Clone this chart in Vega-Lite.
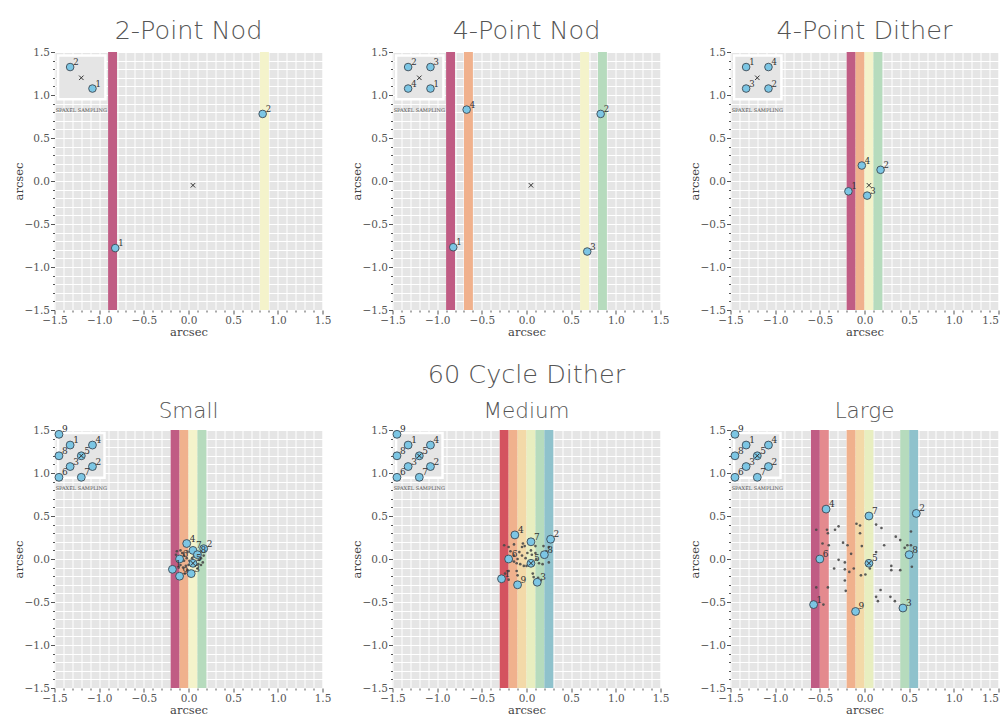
{
"$schema": "https://vega.github.io/schema/vega-lite/v6.json",
"background": "white",
"padding": {"left": 12.5, "top": 18, "right": 0, "bottom": 0},
"columns": 3,
"spacing": {"row": 120, "column": 70},
"bounds": "flush",
"concat": [
{
"width": 268, "height": 258,
"title": {"text": "2-Point Nod"},
"data": {"values": [
{"k":"band","x":-0.9,"x2":-0.8,"y":-1.5,"y2":1.5,"c":"b1"},
{"k":"band","x":0.8,"x2":0.9,"y":-1.5,"y2":1.5,"c":"b6"},
{"k":"box","x":-1.46,"x2":-0.93,"y":0.95,"y2":1.46},
{"k":"cap","x":-1.2,"y":0.83,"t":"SPAXEL SAMPLING"},
{"k":"pt","x":-0.82,"y":-0.78,"n":"1"},
{"k":"pt","x":0.83,"y":0.78,"n":"2"},
{"k":"pt","x":-1.075,"y":1.075,"n":"1"},
{"k":"pt","x":-1.325,"y":1.325,"n":"2"},
{"k":"ctr","x":0.05,"y":-0.05},
{"k":"ctr","x":-1.2,"y":1.2}
]},
"encoding": {
"x": {"field":"x","type":"quantitative","title":"arcsec","scale":{"domain":[-1.5,1.5],"nice":false,"zero":false},"axis":{"values":[-1.5,-1.4,-1.3,-1.2,-1.1,-1,-0.9,-0.8,-0.7,-0.6,-0.5,-0.4,-0.3,-0.2,-0.1,0,0.1,0.2,0.3,0.4,0.5,0.6,0.7,0.8,0.9,1,1.1,1.2,1.3,1.4,1.5],"labelExpr":"abs(datum.value*2-round(datum.value*2))<0.01 ? format(datum.value,'.1f') : ''","tickSize":{"condition":{"test":"abs(datum.value*2-round(datum.value*2))<0.01","value":4},"value":2},"labelPadding":1,"titlePadding":1}},
"y": {"field":"y","type":"quantitative","title":"arcsec","scale":{"domain":[-1.5,1.5],"nice":false,"zero":false},"axis":{"values":[-1.5,-1.4,-1.3,-1.2,-1.1,-1,-0.9,-0.8,-0.7,-0.6,-0.5,-0.4,-0.3,-0.2,-0.1,0,0.1,0.2,0.3,0.4,0.5,0.6,0.7,0.8,0.9,1,1.1,1.2,1.3,1.4,1.5],"labelExpr":"abs(datum.value*2-round(datum.value*2))<0.01 ? format(datum.value,'.1f') : ''","tickSize":{"condition":{"test":"abs(datum.value*2-round(datum.value*2))<0.01","value":4},"value":2},"labelPadding":1,"titlePadding":0}}
},
"layer": [
{"transform":[{"filter":"datum.k==='band'"}],"mark":{"type":"rect"},"encoding":{"x2":{"field":"x2"},"y2":{"field":"y2"},"color":{"field":"c","type":"nominal","legend":null,"scale":{"domain":["b1","b2","b3","b4","b5","b6","b7","b8","b9"],"range":["#C05C84","#D4535F","#E48A8E","#F0B18D","#F3D9A8","#F4F3CB","#E8EEC0","#B6DBBD","#8FC2CC"]}}}},
{"transform":[{"filter":"datum.k==='box'"}],"mark":{"type":"rect","fill":"#E5E5E5","stroke":"white","strokeWidth":2.5},"encoding":{"x2":{"field":"x2"},"y2":{"field":"y2"}}},
{"transform":[{"filter":"datum.k==='cap'"}],"mark":{"type":"text","font":"DejaVu Serif","fontSize":5,"color":"#555555","align":"center","baseline":"middle"},"encoding":{"text":{"field":"t"}}},
{"transform":[{"filter":"datum.k==='pt'"}],"mark":{"type":"point","shape":"circle","filled":true,"fill":"#7CC6E4","stroke":"#3C4A55","strokeWidth":0.9,"opacity":1,"size":58}},
{"transform":[{"filter":"datum.k==='pt'"}],"mark":{"type":"text","font":"DejaVu Serif","fontSize":8.5,"color":"#333333","align":"left","baseline":"middle","dx":3,"dy":-5},"encoding":{"text":{"field":"n"}}},
{"transform":[{"filter":"datum.k==='ctr'"}],"mark":{"type":"point","shape":"M-1,-1L1,1M-1,1L1,-1","filled":false,"stroke":"#333333","strokeWidth":1,"opacity":1,"size":20}}
]
},
{
"width": 268, "height": 258,
"title": {"text": "4-Point Nod"},
"data": {"values": [
{"k":"band","x":-0.9,"x2":-0.8,"y":-1.5,"y2":1.5,"c":"b1"},
{"k":"band","x":-0.7,"x2":-0.6,"y":-1.5,"y2":1.5,"c":"b4"},
{"k":"band","x":0.6,"x2":0.7,"y":-1.5,"y2":1.5,"c":"b6"},
{"k":"band","x":0.8,"x2":0.9,"y":-1.5,"y2":1.5,"c":"b8"},
{"k":"box","x":-1.46,"x2":-0.93,"y":0.95,"y2":1.46},
{"k":"cap","x":-1.2,"y":0.83,"t":"SPAXEL SAMPLING"},
{"k":"pt","x":-0.82,"y":-0.77,"n":"1"},
{"k":"pt","x":0.83,"y":0.78,"n":"2"},
{"k":"pt","x":0.68,"y":-0.82,"n":"3"},
{"k":"pt","x":-0.67,"y":0.83,"n":"4"},
{"k":"pt","x":-1.075,"y":1.075,"n":"1"},
{"k":"pt","x":-1.325,"y":1.325,"n":"2"},
{"k":"pt","x":-1.075,"y":1.325,"n":"3"},
{"k":"pt","x":-1.325,"y":1.075,"n":"4"},
{"k":"ctr","x":0.05,"y":-0.05},
{"k":"ctr","x":-1.2,"y":1.2}
]},
"encoding": {
"x": {"field":"x","type":"quantitative","title":"arcsec","scale":{"domain":[-1.5,1.5],"nice":false,"zero":false},"axis":{"values":[-1.5,-1.4,-1.3,-1.2,-1.1,-1,-0.9,-0.8,-0.7,-0.6,-0.5,-0.4,-0.3,-0.2,-0.1,0,0.1,0.2,0.3,0.4,0.5,0.6,0.7,0.8,0.9,1,1.1,1.2,1.3,1.4,1.5],"labelExpr":"abs(datum.value*2-round(datum.value*2))<0.01 ? format(datum.value,'.1f') : ''","tickSize":{"condition":{"test":"abs(datum.value*2-round(datum.value*2))<0.01","value":4},"value":2},"labelPadding":1,"titlePadding":1}},
"y": {"field":"y","type":"quantitative","title":"arcsec","scale":{"domain":[-1.5,1.5],"nice":false,"zero":false},"axis":{"values":[-1.5,-1.4,-1.3,-1.2,-1.1,-1,-0.9,-0.8,-0.7,-0.6,-0.5,-0.4,-0.3,-0.2,-0.1,0,0.1,0.2,0.3,0.4,0.5,0.6,0.7,0.8,0.9,1,1.1,1.2,1.3,1.4,1.5],"labelExpr":"abs(datum.value*2-round(datum.value*2))<0.01 ? format(datum.value,'.1f') : ''","tickSize":{"condition":{"test":"abs(datum.value*2-round(datum.value*2))<0.01","value":4},"value":2},"labelPadding":1,"titlePadding":0}}
},
"layer": [
{"transform":[{"filter":"datum.k==='band'"}],"mark":{"type":"rect"},"encoding":{"x2":{"field":"x2"},"y2":{"field":"y2"},"color":{"field":"c","type":"nominal","legend":null,"scale":{"domain":["b1","b2","b3","b4","b5","b6","b7","b8","b9"],"range":["#C05C84","#D4535F","#E48A8E","#F0B18D","#F3D9A8","#F4F3CB","#E8EEC0","#B6DBBD","#8FC2CC"]}}}},
{"transform":[{"filter":"datum.k==='box'"}],"mark":{"type":"rect","fill":"#E5E5E5","stroke":"white","strokeWidth":2.5},"encoding":{"x2":{"field":"x2"},"y2":{"field":"y2"}}},
{"transform":[{"filter":"datum.k==='cap'"}],"mark":{"type":"text","font":"DejaVu Serif","fontSize":5,"color":"#555555","align":"center","baseline":"middle"},"encoding":{"text":{"field":"t"}}},
{"transform":[{"filter":"datum.k==='pt'"}],"mark":{"type":"point","shape":"circle","filled":true,"fill":"#7CC6E4","stroke":"#3C4A55","strokeWidth":0.9,"opacity":1,"size":58}},
{"transform":[{"filter":"datum.k==='pt'"}],"mark":{"type":"text","font":"DejaVu Serif","fontSize":8.5,"color":"#333333","align":"left","baseline":"middle","dx":3,"dy":-5},"encoding":{"text":{"field":"n"}}},
{"transform":[{"filter":"datum.k==='ctr'"}],"mark":{"type":"point","shape":"M-1,-1L1,1M-1,1L1,-1","filled":false,"stroke":"#333333","strokeWidth":1,"opacity":1,"size":20}}
]
},
{
"width": 268, "height": 258,
"title": {"text": "4-Point Dither"},
"data": {"values": [
{"k":"band","x":-0.2,"x2":-0.1,"y":-1.5,"y2":1.5,"c":"b1"},
{"k":"band","x":-0.1,"x2":0,"y":-1.5,"y2":1.5,"c":"b4"},
{"k":"band","x":0,"x2":0.1,"y":-1.5,"y2":1.5,"c":"b6"},
{"k":"band","x":0.1,"x2":0.2,"y":-1.5,"y2":1.5,"c":"b8"},
{"k":"box","x":-1.46,"x2":-0.93,"y":0.95,"y2":1.46},
{"k":"cap","x":-1.2,"y":0.83,"t":"SPAXEL SAMPLING"},
{"k":"pt","x":-0.18,"y":-0.12,"n":"1"},
{"k":"pt","x":0.18,"y":0.13,"n":"2"},
{"k":"pt","x":0.03,"y":-0.17,"n":"3"},
{"k":"pt","x":-0.03,"y":0.18,"n":"4"},
{"k":"pt","x":-1.325,"y":1.325,"n":"1"},
{"k":"pt","x":-1.075,"y":1.075,"n":"2"},
{"k":"pt","x":-1.325,"y":1.075,"n":"3"},
{"k":"pt","x":-1.075,"y":1.325,"n":"4"},
{"k":"ctr","x":0.05,"y":-0.05},
{"k":"ctr","x":-1.2,"y":1.2}
]},
"encoding": {
"x": {"field":"x","type":"quantitative","title":"arcsec","scale":{"domain":[-1.5,1.5],"nice":false,"zero":false},"axis":{"values":[-1.5,-1.4,-1.3,-1.2,-1.1,-1,-0.9,-0.8,-0.7,-0.6,-0.5,-0.4,-0.3,-0.2,-0.1,0,0.1,0.2,0.3,0.4,0.5,0.6,0.7,0.8,0.9,1,1.1,1.2,1.3,1.4,1.5],"labelExpr":"abs(datum.value*2-round(datum.value*2))<0.01 ? format(datum.value,'.1f') : ''","labelAlign":{"condition":{"test":"datum.value>1.45","value":"right"},"value":"center"},"tickSize":{"condition":{"test":"abs(datum.value*2-round(datum.value*2))<0.01","value":4},"value":2},"labelPadding":1,"titlePadding":1}},
"y": {"field":"y","type":"quantitative","title":"arcsec","scale":{"domain":[-1.5,1.5],"nice":false,"zero":false},"axis":{"values":[-1.5,-1.4,-1.3,-1.2,-1.1,-1,-0.9,-0.8,-0.7,-0.6,-0.5,-0.4,-0.3,-0.2,-0.1,0,0.1,0.2,0.3,0.4,0.5,0.6,0.7,0.8,0.9,1,1.1,1.2,1.3,1.4,1.5],"labelExpr":"abs(datum.value*2-round(datum.value*2))<0.01 ? format(datum.value,'.1f') : ''","tickSize":{"condition":{"test":"abs(datum.value*2-round(datum.value*2))<0.01","value":4},"value":2},"labelPadding":1,"titlePadding":0}}
},
"layer": [
{"transform":[{"filter":"datum.k==='band'"}],"mark":{"type":"rect"},"encoding":{"x2":{"field":"x2"},"y2":{"field":"y2"},"color":{"field":"c","type":"nominal","legend":null,"scale":{"domain":["b1","b2","b3","b4","b5","b6","b7","b8","b9"],"range":["#C05C84","#D4535F","#E48A8E","#F0B18D","#F3D9A8","#F4F3CB","#E8EEC0","#B6DBBD","#8FC2CC"]}}}},
{"transform":[{"filter":"datum.k==='box'"}],"mark":{"type":"rect","fill":"#E5E5E5","stroke":"white","strokeWidth":2.5},"encoding":{"x2":{"field":"x2"},"y2":{"field":"y2"}}},
{"transform":[{"filter":"datum.k==='cap'"}],"mark":{"type":"text","font":"DejaVu Serif","fontSize":5,"color":"#555555","align":"center","baseline":"middle"},"encoding":{"text":{"field":"t"}}},
{"transform":[{"filter":"datum.k==='pt'"}],"mark":{"type":"point","shape":"circle","filled":true,"fill":"#7CC6E4","stroke":"#3C4A55","strokeWidth":0.9,"opacity":1,"size":58}},
{"transform":[{"filter":"datum.k==='pt'"}],"mark":{"type":"text","font":"DejaVu Serif","fontSize":8.5,"color":"#333333","align":"left","baseline":"middle","dx":3,"dy":-5},"encoding":{"text":{"field":"n"}}},
{"transform":[{"filter":"datum.k==='ctr'"}],"mark":{"type":"point","shape":"M-1,-1L1,1M-1,1L1,-1","filled":false,"stroke":"#333333","strokeWidth":1,"opacity":1,"size":20}}
]
},
{
"width": 268, "height": 258,
"title": {"text": " ", "subtitle": "Small"},
"data": {"values": [
{"k":"band","x":-0.2,"x2":-0.1,"y":-1.5,"y2":1.5,"c":"b1"},
{"k":"band","x":-0.1,"x2":0,"y":-1.5,"y2":1.5,"c":"b4"},
{"k":"band","x":0,"x2":0.1,"y":-1.5,"y2":1.5,"c":"b6"},
{"k":"band","x":0.1,"x2":0.2,"y":-1.5,"y2":1.5,"c":"b8"},
{"k":"box","x":-1.46,"x2":-0.94,"y":0.945,"y2":1.465},
{"k":"cap","x":-1.2,"y":0.83,"t":"SPAXEL SAMPLING"},
{"k":"dot","x":-0.13,"y":0.09},{"k":"dot","x":-0.09,"y":0.1},{"k":"dot","x":-0.07,"y":0.07},{"k":"dot","x":-0.05,"y":0.04},{"k":"dot","x":-0.01,"y":0.08},{"k":"dot","x":0.03,"y":0.1},{"k":"dot","x":0.08,"y":0.08},{"k":"dot","x":0.1,"y":0.04},{"k":"dot","x":0.13,"y":0.06},{"k":"dot","x":0.12,"y":-0.01},{"k":"dot","x":0.08,"y":-0.03},{"k":"dot","x":0.07,"y":-0.08},{"k":"dot","x":0.11,"y":-0.06},{"k":"dot","x":-0.05,"y":-0.02},{"k":"dot","x":-0.09,"y":-0.07},{"k":"dot","x":-0.11,"y":-0.1},{"k":"dot","x":-0.03,"y":-0.08},{"k":"dot","x":-0.01,"y":-0.13},{"k":"dot","x":0.02,"y":-0.14},{"k":"dot","x":0.05,"y":-0.14},{"k":"dot","x":0.1,"y":-0.11},{"k":"dot","x":0.14,"y":-0.07},{"k":"dot","x":0.16,"y":-0.04},{"k":"dot","x":-0.04,"y":-0.17},{"k":"dot","x":0.01,"y":-0.02},{"k":"dot","x":0.04,"y":0.01},{"k":"dot","x":-0.02,"y":0.01},{"k":"dot","x":-0.06,"y":-0.1},{"k":"dot","x":0.14,"y":0.01},{"k":"dot","x":-0.1,"y":0.03},{"k":"dot","x":-0.14,"y":0.05},{"k":"dot","x":0.06,"y":0.03},{"k":"dot","x":0,"y":-0.07},{"k":"dot","x":0.17,"y":0.04},
{"k":"pt","x":-0.18,"y":-0.12,"n":"1"},
{"k":"pt","x":0.17,"y":0.12,"n":"2"},
{"k":"pt","x":0.03,"y":-0.17,"n":"3"},
{"k":"pt","x":-0.02,"y":0.18,"n":"4"},
{"k":"pt","x":0.05,"y":-0.05,"n":"5"},
{"k":"pt","x":-0.1,"y":0,"n":"6"},
{"k":"pt","x":0.05,"y":0.1,"n":"7"},
{"k":"pt","x":0.1,"y":0.05,"n":"8"},
{"k":"pt","x":-0.1,"y":-0.2,"n":"9"},
{"k":"pt","x":-1.325,"y":1.325,"n":"1"},
{"k":"pt","x":-1.075,"y":1.075,"n":"2"},
{"k":"pt","x":-1.325,"y":1.075,"n":"3"},
{"k":"pt","x":-1.075,"y":1.325,"n":"4"},
{"k":"pt","x":-1.2,"y":1.2,"n":"5"},
{"k":"pt","x":-1.45,"y":0.95,"n":"6"},
{"k":"pt","x":-1.2,"y":0.95,"n":"7"},
{"k":"pt","x":-1.45,"y":1.2,"n":"8"},
{"k":"pt","x":-1.45,"y":1.45,"n":"9"},
{"k":"ctr","x":0.05,"y":-0.05},
{"k":"ctr","x":-1.2,"y":1.2}
]},
"encoding": {
"x": {"field":"x","type":"quantitative","title":"arcsec","scale":{"domain":[-1.5,1.5],"nice":false,"zero":false},"axis":{"values":[-1.5,-1.4,-1.3,-1.2,-1.1,-1,-0.9,-0.8,-0.7,-0.6,-0.5,-0.4,-0.3,-0.2,-0.1,0,0.1,0.2,0.3,0.4,0.5,0.6,0.7,0.8,0.9,1,1.1,1.2,1.3,1.4,1.5],"labelExpr":"abs(datum.value*2-round(datum.value*2))<0.01 ? format(datum.value,'.1f') : ''","tickSize":{"condition":{"test":"abs(datum.value*2-round(datum.value*2))<0.01","value":4},"value":2},"labelPadding":1,"titlePadding":1}},
"y": {"field":"y","type":"quantitative","title":"arcsec","scale":{"domain":[-1.5,1.5],"nice":false,"zero":false},"axis":{"values":[-1.5,-1.4,-1.3,-1.2,-1.1,-1,-0.9,-0.8,-0.7,-0.6,-0.5,-0.4,-0.3,-0.2,-0.1,0,0.1,0.2,0.3,0.4,0.5,0.6,0.7,0.8,0.9,1,1.1,1.2,1.3,1.4,1.5],"labelExpr":"abs(datum.value*2-round(datum.value*2))<0.01 ? format(datum.value,'.1f') : ''","tickSize":{"condition":{"test":"abs(datum.value*2-round(datum.value*2))<0.01","value":4},"value":2},"labelPadding":1,"titlePadding":0}}
},
"layer": [
{"transform":[{"filter":"datum.k==='band'"}],"mark":{"type":"rect"},"encoding":{"x2":{"field":"x2"},"y2":{"field":"y2"},"color":{"field":"c","type":"nominal","legend":null,"scale":{"domain":["b1","b2","b3","b4","b5","b6","b7","b8","b9"],"range":["#C05C84","#D4535F","#E48A8E","#F0B18D","#F3D9A8","#F4F3CB","#E8EEC0","#B6DBBD","#8FC2CC"]}}}},
{"transform":[{"filter":"datum.k==='box'"}],"mark":{"type":"rect","fill":"#E5E5E5","stroke":"white","strokeWidth":2.5},"encoding":{"x2":{"field":"x2"},"y2":{"field":"y2"}}},
{"transform":[{"filter":"datum.k==='cap'"}],"mark":{"type":"text","font":"DejaVu Serif","fontSize":5,"color":"#555555","align":"center","baseline":"middle"},"encoding":{"text":{"field":"t"}}},
{"transform":[{"filter":"datum.k==='dot'"}],"mark":{"type":"circle","color":"#4A4A4A","opacity":0.9,"size":7}},
{"transform":[{"filter":"datum.k==='pt'"}],"mark":{"type":"point","shape":"circle","filled":true,"fill":"#7CC6E4","stroke":"#3C4A55","strokeWidth":0.9,"opacity":1,"size":62}},
{"transform":[{"filter":"datum.k==='pt'"}],"mark":{"type":"text","font":"DejaVu Serif","fontSize":9,"color":"#333333","align":"left","baseline":"middle","dx":3,"dy":-5},"encoding":{"text":{"field":"n"}}},
{"transform":[{"filter":"datum.k==='ctr'"}],"mark":{"type":"point","shape":"M-1,-1L1,1M-1,1L1,-1","filled":false,"stroke":"#333333","strokeWidth":1,"opacity":1,"size":20}}
]
},
{
"width": 268, "height": 258,
"title": {"text": "60 Cycle Dither", "subtitle": "Medium"},
"data": {"values": [
{"k":"band","x":-0.3,"x2":-0.2,"y":-1.5,"y2":1.5,"c":"b2"},
{"k":"band","x":-0.2,"x2":-0.1,"y":-1.5,"y2":1.5,"c":"b4"},
{"k":"band","x":-0.1,"x2":0,"y":-1.5,"y2":1.5,"c":"b5"},
{"k":"band","x":0,"x2":0.1,"y":-1.5,"y2":1.5,"c":"b7"},
{"k":"band","x":0.1,"x2":0.2,"y":-1.5,"y2":1.5,"c":"b8"},
{"k":"band","x":0.2,"x2":0.3,"y":-1.5,"y2":1.5,"c":"b9"},
{"k":"box","x":-1.46,"x2":-0.94,"y":0.945,"y2":1.465},
{"k":"cap","x":-1.2,"y":0.83,"t":"SPAXEL SAMPLING"},
{"k":"dot","x":-0.25,"y":0.16},{"k":"dot","x":-0.2,"y":0.14},{"k":"dot","x":-0.14,"y":0.17},{"k":"dot","x":-0.18,"y":0.09},{"k":"dot","x":-0.04,"y":0.18},{"k":"dot","x":-0.02,"y":0.15},{"k":"dot","x":-0.08,"y":0.08},{"k":"dot","x":0.03,"y":0.23},{"k":"dot","x":0.1,"y":0.15},{"k":"dot","x":0.1,"y":0.07},{"k":"dot","x":-0.14,"y":0.04},{"k":"dot","x":-0.1,"y":0},{"k":"dot","x":-0.05,"y":0.04},{"k":"dot","x":-0.01,"y":0.01},{"k":"dot","x":-0.14,"y":-0.03},{"k":"dot","x":-0.11,"y":-0.05},{"k":"dot","x":-0.07,"y":-0.06},{"k":"dot","x":-0.03,"y":-0.08},{"k":"dot","x":0,"y":-0.08},{"k":"dot","x":0.03,"y":-0.05},{"k":"dot","x":0.11,"y":0},{"k":"dot","x":0.14,"y":-0.05},{"k":"dot","x":0.18,"y":-0.06},{"k":"dot","x":0.25,"y":-0.04},{"k":"dot","x":0.25,"y":0.14},{"k":"dot","x":0.19,"y":0.15},{"k":"dot","x":0.22,"y":0.09},{"k":"dot","x":-0.2,"y":-0.14},{"k":"dot","x":-0.24,"y":-0.17},{"k":"dot","x":-0.11,"y":-0.14},{"k":"dot","x":-0.1,"y":-0.19},{"k":"dot","x":0.07,"y":-0.17},{"k":"dot","x":0.08,"y":-0.21},{"k":"dot","x":0.13,"y":-0.22},{"k":"dot","x":0.16,"y":-0.25},{"k":"dot","x":0.09,"y":-0.28},{"k":"dot","x":-0.2,"y":-0.24},{"k":"dot","x":0.01,"y":0.07},{"k":"dot","x":0.06,"y":0.05},{"k":"dot","x":-0.17,"y":-0.02},{"k":"dot","x":-0.05,"y":0.14},{"k":"dot","x":0.05,"y":0.1},
{"k":"pt","x":-0.28,"y":-0.23,"n":"1"},
{"k":"pt","x":0.27,"y":0.23,"n":"2"},
{"k":"pt","x":0.12,"y":-0.27,"n":"3"},
{"k":"pt","x":-0.13,"y":0.28,"n":"4"},
{"k":"pt","x":0.05,"y":-0.05,"n":"5"},
{"k":"pt","x":-0.2,"y":0,"n":"6"},
{"k":"pt","x":0.05,"y":0.2,"n":"7"},
{"k":"pt","x":0.2,"y":0.05,"n":"8"},
{"k":"pt","x":-0.1,"y":-0.3,"n":"9"},
{"k":"pt","x":-1.325,"y":1.325,"n":"1"},
{"k":"pt","x":-1.075,"y":1.075,"n":"2"},
{"k":"pt","x":-1.325,"y":1.075,"n":"3"},
{"k":"pt","x":-1.075,"y":1.325,"n":"4"},
{"k":"pt","x":-1.2,"y":1.2,"n":"5"},
{"k":"pt","x":-1.45,"y":0.95,"n":"6"},
{"k":"pt","x":-1.2,"y":0.95,"n":"7"},
{"k":"pt","x":-1.45,"y":1.2,"n":"8"},
{"k":"pt","x":-1.45,"y":1.45,"n":"9"},
{"k":"ctr","x":0.05,"y":-0.05},
{"k":"ctr","x":-1.2,"y":1.2}
]},
"encoding": {
"x": {"field":"x","type":"quantitative","title":"arcsec","scale":{"domain":[-1.5,1.5],"nice":false,"zero":false},"axis":{"values":[-1.5,-1.4,-1.3,-1.2,-1.1,-1,-0.9,-0.8,-0.7,-0.6,-0.5,-0.4,-0.3,-0.2,-0.1,0,0.1,0.2,0.3,0.4,0.5,0.6,0.7,0.8,0.9,1,1.1,1.2,1.3,1.4,1.5],"labelExpr":"abs(datum.value*2-round(datum.value*2))<0.01 ? format(datum.value,'.1f') : ''","tickSize":{"condition":{"test":"abs(datum.value*2-round(datum.value*2))<0.01","value":4},"value":2},"labelPadding":1,"titlePadding":1}},
"y": {"field":"y","type":"quantitative","title":"arcsec","scale":{"domain":[-1.5,1.5],"nice":false,"zero":false},"axis":{"values":[-1.5,-1.4,-1.3,-1.2,-1.1,-1,-0.9,-0.8,-0.7,-0.6,-0.5,-0.4,-0.3,-0.2,-0.1,0,0.1,0.2,0.3,0.4,0.5,0.6,0.7,0.8,0.9,1,1.1,1.2,1.3,1.4,1.5],"labelExpr":"abs(datum.value*2-round(datum.value*2))<0.01 ? format(datum.value,'.1f') : ''","tickSize":{"condition":{"test":"abs(datum.value*2-round(datum.value*2))<0.01","value":4},"value":2},"labelPadding":1,"titlePadding":0}}
},
"layer": [
{"transform":[{"filter":"datum.k==='band'"}],"mark":{"type":"rect"},"encoding":{"x2":{"field":"x2"},"y2":{"field":"y2"},"color":{"field":"c","type":"nominal","legend":null,"scale":{"domain":["b1","b2","b3","b4","b5","b6","b7","b8","b9"],"range":["#C05C84","#D4535F","#E48A8E","#F0B18D","#F3D9A8","#F4F3CB","#E8EEC0","#B6DBBD","#8FC2CC"]}}}},
{"transform":[{"filter":"datum.k==='box'"}],"mark":{"type":"rect","fill":"#E5E5E5","stroke":"white","strokeWidth":2.5},"encoding":{"x2":{"field":"x2"},"y2":{"field":"y2"}}},
{"transform":[{"filter":"datum.k==='cap'"}],"mark":{"type":"text","font":"DejaVu Serif","fontSize":5,"color":"#555555","align":"center","baseline":"middle"},"encoding":{"text":{"field":"t"}}},
{"transform":[{"filter":"datum.k==='dot'"}],"mark":{"type":"circle","color":"#4A4A4A","opacity":0.9,"size":7}},
{"transform":[{"filter":"datum.k==='pt'"}],"mark":{"type":"point","shape":"circle","filled":true,"fill":"#7CC6E4","stroke":"#3C4A55","strokeWidth":0.9,"opacity":1,"size":62}},
{"transform":[{"filter":"datum.k==='pt'"}],"mark":{"type":"text","font":"DejaVu Serif","fontSize":9,"color":"#333333","align":"left","baseline":"middle","dx":3,"dy":-5},"encoding":{"text":{"field":"n"}}},
{"transform":[{"filter":"datum.k==='ctr'"}],"mark":{"type":"point","shape":"M-1,-1L1,1M-1,1L1,-1","filled":false,"stroke":"#333333","strokeWidth":1,"opacity":1,"size":20}}
]
},
{
"width": 268, "height": 258,
"title": {"text": " ", "subtitle": "Large"},
"data": {"values": [
{"k":"band","x":-0.6,"x2":-0.5,"y":-1.5,"y2":1.5,"c":"b1"},
{"k":"band","x":-0.5,"x2":-0.4,"y":-1.5,"y2":1.5,"c":"b3"},
{"k":"band","x":-0.2,"x2":-0.1,"y":-1.5,"y2":1.5,"c":"b4"},
{"k":"band","x":-0.1,"x2":0,"y":-1.5,"y2":1.5,"c":"b5"},
{"k":"band","x":0,"x2":0.1,"y":-1.5,"y2":1.5,"c":"b7"},
{"k":"band","x":0.4,"x2":0.5,"y":-1.5,"y2":1.5,"c":"b8"},
{"k":"band","x":0.5,"x2":0.6,"y":-1.5,"y2":1.5,"c":"b9"},
{"k":"box","x":-1.46,"x2":-0.94,"y":0.945,"y2":1.465},
{"k":"cap","x":-1.2,"y":0.83,"t":"SPAXEL SAMPLING"},
{"k":"dot","x":-0.54,"y":0.34},{"k":"dot","x":-0.42,"y":0.34},{"k":"dot","x":-0.41,"y":0.3},{"k":"dot","x":-0.33,"y":0.34},{"k":"dot","x":-0.29,"y":0.38},{"k":"dot","x":-0.47,"y":0.18},{"k":"dot","x":-0.4,"y":0.16},{"k":"dot","x":-0.24,"y":0.19},{"k":"dot","x":-0.19,"y":0.16},{"k":"dot","x":-0.15,"y":0.06},{"k":"dot","x":-0.09,"y":0.41},{"k":"dot","x":-0.05,"y":0.39},{"k":"dot","x":-0.05,"y":0.3},{"k":"dot","x":-0.03,"y":0.15},{"k":"dot","x":0.13,"y":0.4},{"k":"dot","x":0.19,"y":0.36},{"k":"dot","x":0.13,"y":0.08},{"k":"dot","x":0.22,"y":0.16},{"k":"dot","x":0.35,"y":0.26},{"k":"dot","x":0.4,"y":0.22},{"k":"dot","x":0.45,"y":0.13},{"k":"dot","x":0.48,"y":0.16},{"k":"dot","x":0.52,"y":0.32},{"k":"dot","x":0.52,"y":0.16},{"k":"dot","x":0.53,"y":-0.09},{"k":"dot","x":0.3,"y":-0.08},{"k":"dot","x":0.3,"y":-0.13},{"k":"dot","x":0.4,"y":-0.13},{"k":"dot","x":-0.29,"y":-0.01},{"k":"dot","x":-0.22,"y":-0.04},{"k":"dot","x":-0.34,"y":-0.11},{"k":"dot","x":-0.22,"y":-0.12},{"k":"dot","x":-0.17,"y":-0.15},{"k":"dot","x":-0.12,"y":-0.11},{"k":"dot","x":-0.04,"y":-0.19},{"k":"dot","x":0.01,"y":-0.18},{"k":"dot","x":0.06,"y":-0.11},{"k":"dot","x":-0.22,"y":-0.25},{"k":"dot","x":-0.21,"y":-0.37},{"k":"dot","x":-0.54,"y":-0.33},{"k":"dot","x":-0.41,"y":-0.33},{"k":"dot","x":-0.46,"y":-0.53},{"k":"dot","x":0.18,"y":-0.36},{"k":"dot","x":0.13,"y":-0.44},{"k":"dot","x":0.15,"y":-0.49},{"k":"dot","x":0.29,"y":-0.44},{"k":"dot","x":0.34,"y":-0.49},
{"k":"pt","x":-0.57,"y":-0.53,"n":"1"},
{"k":"pt","x":0.58,"y":0.53,"n":"2"},
{"k":"pt","x":0.43,"y":-0.57,"n":"3"},
{"k":"pt","x":-0.43,"y":0.58,"n":"4"},
{"k":"pt","x":0.05,"y":-0.05,"n":"5"},
{"k":"pt","x":-0.5,"y":0,"n":"6"},
{"k":"pt","x":0.05,"y":0.5,"n":"7"},
{"k":"pt","x":0.5,"y":0.05,"n":"8"},
{"k":"pt","x":-0.1,"y":-0.61,"n":"9"},
{"k":"pt","x":-1.325,"y":1.325,"n":"1"},
{"k":"pt","x":-1.075,"y":1.075,"n":"2"},
{"k":"pt","x":-1.325,"y":1.075,"n":"3"},
{"k":"pt","x":-1.075,"y":1.325,"n":"4"},
{"k":"pt","x":-1.2,"y":1.2,"n":"5"},
{"k":"pt","x":-1.45,"y":0.95,"n":"6"},
{"k":"pt","x":-1.2,"y":0.95,"n":"7"},
{"k":"pt","x":-1.45,"y":1.2,"n":"8"},
{"k":"pt","x":-1.45,"y":1.45,"n":"9"},
{"k":"ctr","x":0.05,"y":-0.05},
{"k":"ctr","x":-1.2,"y":1.2}
]},
"encoding": {
"x": {"field":"x","type":"quantitative","title":"arcsec","scale":{"domain":[-1.5,1.5],"nice":false,"zero":false},"axis":{"values":[-1.5,-1.4,-1.3,-1.2,-1.1,-1,-0.9,-0.8,-0.7,-0.6,-0.5,-0.4,-0.3,-0.2,-0.1,0,0.1,0.2,0.3,0.4,0.5,0.6,0.7,0.8,0.9,1,1.1,1.2,1.3,1.4,1.5],"labelExpr":"abs(datum.value*2-round(datum.value*2))<0.01 ? format(datum.value,'.1f') : ''","labelAlign":{"condition":{"test":"datum.value>1.45","value":"right"},"value":"center"},"tickSize":{"condition":{"test":"abs(datum.value*2-round(datum.value*2))<0.01","value":4},"value":2},"labelPadding":1,"titlePadding":1}},
"y": {"field":"y","type":"quantitative","title":"arcsec","scale":{"domain":[-1.5,1.5],"nice":false,"zero":false},"axis":{"values":[-1.5,-1.4,-1.3,-1.2,-1.1,-1,-0.9,-0.8,-0.7,-0.6,-0.5,-0.4,-0.3,-0.2,-0.1,0,0.1,0.2,0.3,0.4,0.5,0.6,0.7,0.8,0.9,1,1.1,1.2,1.3,1.4,1.5],"labelExpr":"abs(datum.value*2-round(datum.value*2))<0.01 ? format(datum.value,'.1f') : ''","tickSize":{"condition":{"test":"abs(datum.value*2-round(datum.value*2))<0.01","value":4},"value":2},"labelPadding":1,"titlePadding":0}}
},
"layer": [
{"transform":[{"filter":"datum.k==='band'"}],"mark":{"type":"rect"},"encoding":{"x2":{"field":"x2"},"y2":{"field":"y2"},"color":{"field":"c","type":"nominal","legend":null,"scale":{"domain":["b1","b2","b3","b4","b5","b6","b7","b8","b9"],"range":["#C05C84","#D4535F","#E48A8E","#F0B18D","#F3D9A8","#F4F3CB","#E8EEC0","#B6DBBD","#8FC2CC"]}}}},
{"transform":[{"filter":"datum.k==='box'"}],"mark":{"type":"rect","fill":"#E5E5E5","stroke":"white","strokeWidth":2.5},"encoding":{"x2":{"field":"x2"},"y2":{"field":"y2"}}},
{"transform":[{"filter":"datum.k==='cap'"}],"mark":{"type":"text","font":"DejaVu Serif","fontSize":5,"color":"#555555","align":"center","baseline":"middle"},"encoding":{"text":{"field":"t"}}},
{"transform":[{"filter":"datum.k==='dot'"}],"mark":{"type":"circle","color":"#4A4A4A","opacity":0.9,"size":7}},
{"transform":[{"filter":"datum.k==='pt'"}],"mark":{"type":"point","shape":"circle","filled":true,"fill":"#7CC6E4","stroke":"#3C4A55","strokeWidth":0.9,"opacity":1,"size":62}},
{"transform":[{"filter":"datum.k==='pt'"}],"mark":{"type":"text","font":"DejaVu Serif","fontSize":9,"color":"#333333","align":"left","baseline":"middle","dx":3,"dy":-5},"encoding":{"text":{"field":"n"}}},
{"transform":[{"filter":"datum.k==='ctr'"}],"mark":{"type":"point","shape":"M-1,-1L1,1M-1,1L1,-1","filled":false,"stroke":"#333333","strokeWidth":1,"opacity":1,"size":20}}
]
}
],
"config": {
"view": {"stroke": null, "fill": "#E5E5E5"},
"axis": {"grid": true, "gridColor": "#FFFFFF", "gridWidth": 1, "gridOpacity": 1, "domain": false, "tickColor": "#555555", "tickWidth": 1, "labelFont": "DejaVu Serif", "labelFontSize": 10.5, "labelColor": "#555555", "titleFont": "DejaVu Serif", "titleFontSize": 11.5, "titleFontWeight": "normal", "titleColor": "#444444", "labelFlush": false, "labelOverlap": false},
"title": {"font": "DejaVu Sans", "fontSize": 25.5, "fontWeight": 200, "color": "#555555", "offset": 3, "subtitleFont": "DejaVu Sans", "subtitleFontSize": 21.5, "subtitleFontWeight": 200, "subtitleColor": "#555555", "subtitlePadding": 12}
}
}
